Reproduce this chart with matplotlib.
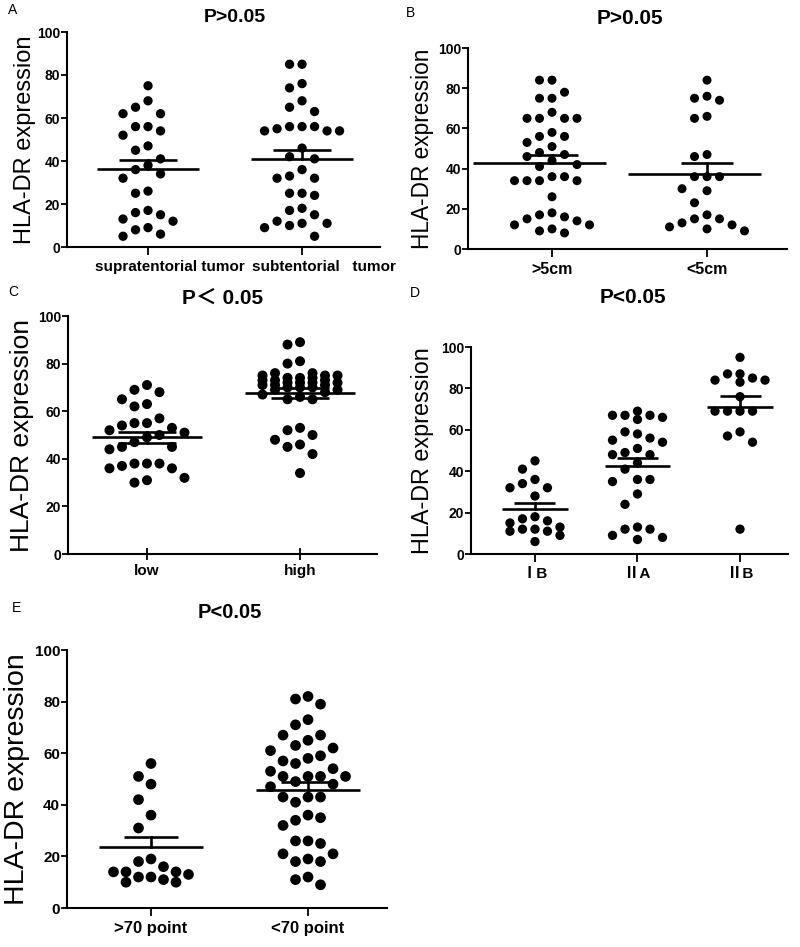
import numpy as np
import matplotlib
matplotlib.use("Agg")
import matplotlib.pyplot as plt
import matplotlib.transforms as mtransforms

plt.rcParams['font.family'] = ['Liberation Sans', 'Noto Sans CJK SC', 'DejaVu Sans']

# ---------------- data ----------------
y_label = "HLA-DR expression"

a_categories = ["supratentorial tumor", "subtentorial   tumor"]
a_supratentorial = [75, 68, 65, 62, 62, 56, 56, 54, 52, 47, 45, 41, 38, 36, 34, 32,
                    26, 25, 17, 16, 15, 13, 12, 9, 8, 6, 5]
a_subtentorial = [85, 85, 76, 74, 68, 65, 63, 56, 55, 54, 54, 54, 56, 56, 46, 42, 41,
                  36, 33, 32, 32, 25, 24, 25, 18, 15, 17, 12, 11, 10, 11, 9, 5]
a_title = "P>0.05"

b_categories = [">5cm", "<5cm"]
b_gt5cm = [84, 84, 78, 75, 75, 68, 65, 65, 65, 65, 58, 56, 56, 53, 51, 48, 47, 46, 44,
           42, 41, 36, 36, 34, 34, 34, 34, 26, 18, 17, 16, 15, 14, 12, 12, 10, 9, 8]
b_lt5cm = [84, 76, 75, 74, 66, 65, 47, 46, 36, 36, 36, 30, 29, 23, 17, 15, 15, 13, 12,
           11, 10, 9]
b_title = "P>0.05"

c_categories = ["low", "high"]
c_low = [71, 69, 68, 65, 63, 62, 57, 55, 55, 54, 53, 52, 51, 50, 49, 47, 45, 45, 44,
         38, 38, 38, 37, 36, 36, 32, 31, 30]
c_high = [89, 88, 81, 80, 76, 76, 75, 75, 75, 74, 74, 74, 73, 73, 73, 72, 72, 72, 72,
          71, 71, 71, 70, 70, 70, 69, 69, 68, 67, 66, 65, 65,
          53, 52, 50, 48, 46, 45, 42, 34]
c_title = "P\uff1c 0.05"

d_categories = ["\u2160B", "\u2161A", "\u2161B"]
d_IB = [45, 41, 36, 34, 32, 32, 28, 18, 17, 16, 15, 13, 12, 12, 11, 11, 9, 6]
d_IIA = [69, 67, 67, 67, 66, 65, 59, 58, 56, 55, 54, 51, 49, 48, 48, 44, 41, 36, 36,
         35, 29, 24, 13, 12, 12, 9, 8, 7]
d_IIB = [95, 87, 87, 85, 84, 84, 83, 76, 69, 69, 69, 69, 59, 57, 54, 12]
d_title = "P<0.05"

e_categories = [">70 point", "<70 point"]
e_gt70 = [56, 51, 48, 42, 36, 31, 19, 18, 16, 14, 14, 14, 13, 12, 12, 11, 10, 10]
e_lt70 = [82, 81, 79, 73, 71, 67, 67, 65, 63, 62, 61, 59, 58, 57, 56, 54, 53, 51, 51,
          51, 51, 49, 48, 47, 43, 43, 43, 41, 36, 35, 34, 32, 26, 26, 25, 21, 21, 19,
          18, 18, 12, 11, 9]
e_title = "P<0.05"

yticks = [0, 20, 40, 60, 80, 100]

# ---------------- layout helpers ----------------
W, H = 800, 947
fig = plt.figure(figsize=(W / 100, H / 100), dpi=100)
fig.patch.set_facecolor("white")


def rect_px(left, top, right, bottom):
    return [left / W, 1 - bottom / H, (right - left) / W, (bottom - top) / H]


def swarm_x(values, center, px_per_y, px_per_x, d_px, col_px, max_k=3):
    """Grid beeswarm: columns spaced col_px apart, limited to +-max_k."""
    vals = np.asarray(values, dtype=float)
    order = np.argsort(-vals, kind="stable")
    placed = {}
    offs = np.zeros(len(vals))
    cols = [0]
    for k in range(1, max_k + 1):
        cols += [-k, k]
    t_big = 1.5 * d_px
    for i in order:
        ypx = vals[i] * px_per_y
        gaps = []
        chosen = None
        for c in cols:
            g = min([abs(ypx - yy) for yy in placed.get(c, [])] + [1e9])
            gaps.append(g)
            if g >= t_big:
                chosen = c
                break
        if chosen is None:
            chosen = cols[int(np.argmax(gaps))]
        placed.setdefault(chosen, []).append(ypx)
        offs[i] = chosen * col_px / px_per_x
    return center + offs


def panel(letter, letter_xy, rect, xlim, groups, cats, title, title_xy, title_fs,
          ylabel_fs, ylabel_x, d_px, mean_half, cap_half, lower_cap=False,
          mean_shift=0.0, xtick_fs=11, ytick_fs=10, xdir="out", label_shift_px=0,
          max_k=3):
    l, t, r, b = rect
    ax = fig.add_axes(rect_px(l, t, r, b))
    ax.set_xlim(*xlim)
    ax.set_ylim(0, 100)
    px_per_y = (b - t) / 100.0
    px_per_x = (r - l) / (xlim[1] - xlim[0])
    size = (d_px * 0.72) ** 2
    for gi, vals in enumerate(groups):
        xs = swarm_x(vals, gi, px_per_y, px_per_x, d_px, 12.5, max_k)
        ax.scatter(xs, vals, s=size, color="black", edgecolors="none", zorder=3,
                   clip_on=False)
        m = np.mean(vals)
        sem = np.std(vals, ddof=1) / np.sqrt(len(vals))
        ax.plot([gi - mean_half + mean_shift, gi + mean_half + mean_shift], [m, m],
                color="black", lw=1.9, zorder=4, solid_capstyle="butt")
        ax.plot([gi - cap_half, gi + cap_half], [m + sem, m + sem], color="black",
                lw=1.9, zorder=4, solid_capstyle="butt")
        lo = m - sem if lower_cap else m
        ax.plot([gi, gi], [lo, m + sem], color="black", lw=1.9, zorder=4)
        if lower_cap:
            ax.plot([gi - cap_half, gi + cap_half], [m - sem, m - sem],
                    color="black", lw=1.9, zorder=4, solid_capstyle="butt")
    for s in ["top", "right"]:
        ax.spines[s].set_visible(False)
    for s in ["left", "bottom"]:
        ax.spines[s].set_linewidth(1.5)
    ax.set_yticks(yticks)
    ax.set_yticklabels([str(v) for v in yticks], fontsize=ytick_fs, fontweight="bold")
    ax.tick_params(axis="y", direction="out", length=4, width=1.3, pad=1)
    ax.set_xticks(range(len(cats)))
    ax.set_xticklabels(cats, fontsize=xtick_fs, fontweight="bold")
    ax.tick_params(axis="x", direction=xdir, length=6 if xdir == "out" else 9,
                   width=1.3, pad=3)
    if label_shift_px:
        off = mtransforms.ScaledTranslation(label_shift_px / 100, 0, fig.dpi_scale_trans)
        for lab in ax.get_xticklabels():
            lab.set_transform(lab.get_transform() + off)
    ax.set_ylabel(y_label, fontsize=ylabel_fs, va="center")
    ax.yaxis.set_label_coords((ylabel_x - l) / (r - l), 0.5)
    ax.set_facecolor("none")
    fig.text(title_xy[0] / W, 1 - title_xy[1] / H, title, fontsize=title_fs,
             fontweight="bold", ha="center", va="center")
    fig.text(letter_xy[0] / W, 1 - letter_xy[1] / H, letter, fontsize=10,
             ha="left", va="center")
    return ax


panel("A", (8, 10), (67, 32, 380, 247), (-0.526, 1.506),
      [a_supratentorial, a_subtentorial], a_categories, a_title, (235, 17), 14,
      17, 25, 9.3, 0.33, 0.19, label_shift_px=22)

panel("B", (406, 13), (468, 48, 787, 249), (-0.542, 1.516),
      [b_gt5cm, b_lt5cm], b_categories, b_title, (630, 19), 15,
      16.3, 423, 9.0, 0.43, 0.17, mean_shift=-0.08, xtick_fs=11.5)

panel("C", (8, 292), (68, 316, 377, 554), (-0.516, 1.503),
      [c_low, c_high], c_categories, c_title, (223, 298), 15,
      19, 22, 10.0, 0.36, 0.19, lower_cap=True, xdir="inout")

panel("D", (410, 293), (471, 347, 788, 554), (-0.624, 2.468),
      [d_IB, d_IIA, d_IIB], d_categories, d_title, (633, 297), 15,
      16.8, 423, 9.3, 0.32, 0.2, max_k=2)

panel("E", (12, 608), (67, 650, 387, 908), (-0.535, 1.503),
      [e_gt70, e_lt70], e_categories, e_title, (230, 612), 14.5,
      20.5, 17, 10.7, 0.33, 0.17, xtick_fs=12, ytick_fs=11)

fig.savefig("out.png", dpi=100, facecolor="white")
